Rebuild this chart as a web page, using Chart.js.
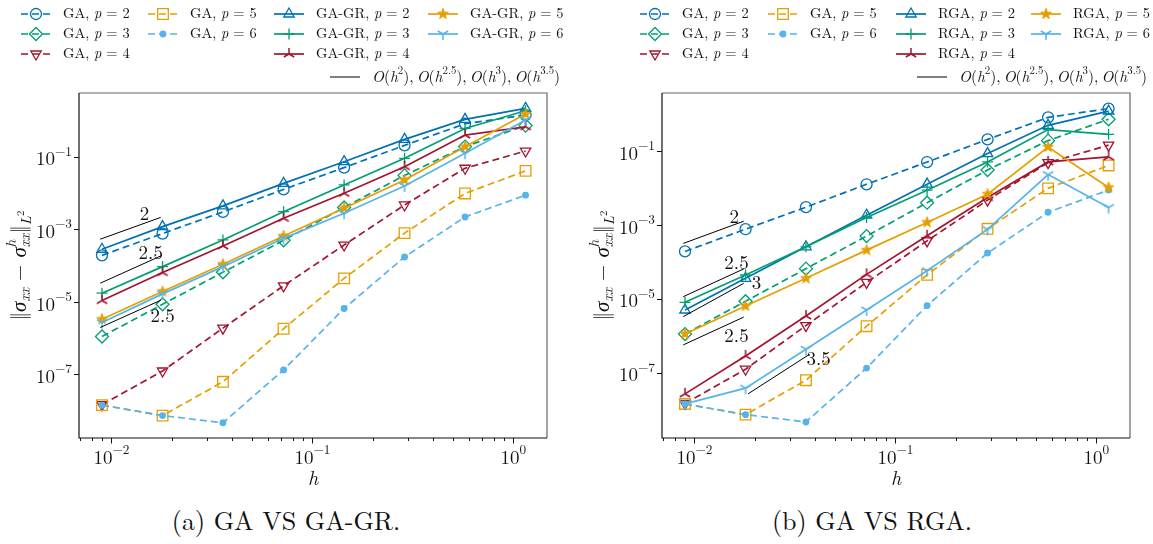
<!DOCTYPE html>
<html>
<head>
<meta charset="utf-8">
<script src="https://cdn.jsdelivr.net/npm/chart.js@4.4.1/dist/chart.umd.min.js"></script>
<style>
  html, body { margin: 0; padding: 0; background: #fff; }
  #page { position: relative; width: 1153px; height: 544px; overflow: hidden; background: #fff; }
  canvas { position: absolute; top: 0; }
  .cap { position: absolute; top: 505px; line-height: 30px; font-size: 26px; color: #111;
         font-family: "Latin Modern Roman", "Liberation Serif", serif;
         white-space: nowrap; transform: translateX(-50%); }
</style>
</head>
<body>
<div id="page">
  <canvas id="ca" width="576" height="490" style="left:0"></canvas>
  <canvas id="cb" width="570" height="490" style="left:583px"></canvas>
  <div class="cap" style="left:286px">(a) GA VS GA-GR.</div>
  <div class="cap" style="left:872px">(b) GA VS RGA.</div>
</div>
<script>
// mesh size
const h = [0.00898, 0.01797, 0.0359, 0.0719, 0.1438, 0.2875, 0.575, 1.15];

// GA (same in both panels)
const gaP2 = [1.9e-4, 7.6e-4, 3.0e-3, 1.25e-2, 0.050, 0.205, 0.81, 1.40];
const gaP3 = [1.1e-6, 8.5e-6, 6.5e-5, 4.95e-4, 3.97e-3, 0.0305, 0.19, 0.72];
const gaP4 = [1.45e-8, 1.23e-7, 1.87e-6, 2.75e-5, 3.66e-4, 4.66e-3, 0.048, 0.143];
const gaP5 = [1.41e-8, 7.25e-9, 6.2e-8, 1.8e-6, 4.4e-5, 7.8e-4, 9.7e-3, 0.0405];
const gaP6 = [1.41e-8, 7.25e-9, 4.6e-9, 1.32e-7, 6.5e-6, 1.72e-4, 2.18e-3, 8.7e-3];

// GA-GR (panel a)
const grP2 = [2.8e-4, 1.18e-3, 4.4e-3, 0.0184, 0.0728, 0.30, 1.07, 2.14];
const grP3 = [1.72e-5, 9.3e-5, 5.06e-4, 3.05e-3, 0.0166, 0.09, 0.60, 1.85];
const grP4 = [1.08e-5, 6.4e-5, 3.46e-4, 2.0e-3, 9.8e-3, 0.053, 0.395, 0.67];
const grP5 = [3.3e-6, 1.91e-5, 1.08e-4, 6.5e-4, 3.8e-3, 0.0228, 0.188, 1.5];
const grP6 = [2.67e-6, 1.65e-5, 9.3e-5, 5.6e-4, 2.75e-3, 0.0156, 0.124, 1.02];

// RGA (panel b)
const rgP2 = [4.94e-6, 3.55e-5, 2.54e-4, 1.82e-3, 0.0126, 0.0847, 0.494, 1.2];
const rgP3 = [7.96e-6, 4.37e-5, 2.54e-4, 1.58e-3, 8.65e-3, 0.0504, 0.378, 0.282];
const rgP4 = [2.65e-8, 2.82e-7, 3.4e-6, 4.55e-5, 5.05e-4, 5.48e-3, 0.0504, 0.0689];
const rgP5 = [1.11e-6, 6.34e-6, 3.55e-5, 2.06e-4, 1.16e-3, 6.75e-3, 0.128, 0.0102];
const rgP6 = [1.42e-8, 3.77e-8, 4.28e-7, 4.94e-6, 5.71e-5, 7.48e-4, 0.0229, 2.94e-3];

// reference slopes
const slopeX = [0.0088, 0.0176];
const slopeA = [[5.3e-4, 2.12e-3], [3.24e-5, 1.83e-4], [1.95e-6, 1.1e-5]];
const slopeB = [[3.13e-4, 1.25e-3], [1.13e-5, 6.4e-5], [3.27e-6, 2.6e-5], [5.6e-7, 3.17e-6]];
const slopeB35X = [0.0185, 0.037];
const slopeB35 = [2.65e-8, 3.0e-7];
const rateA = ['2', '2.5', '2.5'];
const rateAt_A = [[0.0146, 2.64e-3], [0.0157, 2.17e-4], [0.018, 3.9e-6]];
const rateB = ['2', '2.5', '3', '2.5', '3.5'];
const rateAt_B = [[0.0158, 1.64e-3], [0.0162, 9.4e-5], [0.0204, 2.6e-5], [0.0162, 9.8e-7], [0.0415, 2.29e-7]];

// ticks
const xTickVals = [0.01, 0.1, 1];
const xTickExp = ['\u22122', '\u22121', '0'];
const yTickVals = [1e-1, 1e-3, 1e-5, 1e-7];
const yTickExp = ['\u22121', '\u22123', '\u22125', '\u22127'];
const xLim = [0.0069, 1.47];
const yLimA = [1.75e-9, 5.7];
const yLimB = [1.69e-9, 3.7];

const BLUE = '#0072B2', GREEN = '#009E73', RED = '#A2142F', ORANGE = '#E69F00', SKY = '#56B4E9';
const FAM = '"Latin Modern Roman", "Liberation Serif", serif';

// custom markers
function markCanvas(kind, color) {
  const c = document.createElement('canvas');
  c.width = 16; c.height = 16;
  const g = c.getContext('2d');
  g.translate(8, 8);
  g.strokeStyle = color; g.fillStyle = color; g.lineWidth = 1.5;
  if (kind === 'star') {
    g.beginPath();
    for (let i = 0; i < 10; i++) {
      const r = i % 2 ? 2.3 : 5.6, a = -Math.PI / 2 + i * Math.PI / 5;
      g.lineTo(r * Math.cos(a), r * Math.sin(a));
    }
    g.closePath(); g.fill(); g.lineWidth = 1; g.stroke();
  } else {
    const base = kind === 'triUp' ? -Math.PI / 2 : Math.PI / 2;
    g.beginPath();
    for (let i = 0; i < 3; i++) {
      const a = base + i * 2 * Math.PI / 3;
      g.moveTo(0, 0); g.lineTo(6 * Math.cos(a), 6 * Math.sin(a));
    }
    g.stroke();
  }
  return c;
}

const stGA2 = {c: BLUE, dash: true, ps: 'circle', r: 5.5};
const stGA3 = {c: GREEN, dash: true, ps: 'rectRot', r: 6.5};
const stGA4 = {c: RED, dash: true, ps: 'triangle', r: 6, rot: 180};
const stGA5 = {c: ORANGE, dash: true, ps: 'rect', r: 7.5};
const stGA6 = {c: SKY, dash: true, ps: 'circle', r: 2.8, fill: true};
const stN2 = {c: BLUE, ps: 'triangle', r: 6};
const stN3 = {c: GREEN, ps: 'cross', r: 5.5};
const stN4 = {c: RED, ps: markCanvas('triUp', RED), r: 6};
const stN5 = {c: ORANGE, ps: markCanvas('star', ORANGE), r: 6};
const stN6 = {c: SKY, ps: markCanvas('triDown', SKY), r: 6};

function series(vals, st) {
  return {
    data: h.map((x, i) => ({x: x, y: vals[i]})),
    borderColor: st.c, borderWidth: 1.7, borderDash: st.dash ? [7, 4] : [],
    pointStyle: st.ps, pointRadius: st.r, pointRotation: st.rot || 0,
    pointBorderColor: st.c, pointBackgroundColor: st.fill ? st.c : 'rgba(0,0,0,0)',
    pointBorderWidth: 1.3, pointHoverRadius: st.r, fill: false, tension: 0
  };
}
function refLine(xs, ys) {
  return {
    data: xs.map((x, i) => ({x: x, y: ys[i]})),
    borderColor: '#000', borderWidth: 1, pointRadius: 0, fill: false
  };
}

// rich text
const R = t => ({t});
const I = t => ({t, it: 1});
const SUP = t => ({t, s: 0.7, dy: -0.42});
function fontOf(p, size) { return (p.it ? 'italic ' : '') + (size * (p.s || 1)).toFixed(1) + 'px ' + FAM; }
function richW(ctx, parts, size) {
  let w = 0, kw = 0;
  for (const p of parts) {
    ctx.font = fontOf(p, size);
    const tw = ctx.measureText(p.t).width;
    if (p.keep) kw = tw; else { w += Math.max(tw, kw); kw = 0; }
  }
  return w;
}
function drawRich(ctx, parts, x, y, size, align) {
  const w = richW(ctx, parts, size);
  let cx = align === 'center' ? x - w / 2 : align === 'right' ? x - w : x, kw = 0;
  ctx.textAlign = 'left'; ctx.textBaseline = 'middle';
  for (const p of parts) {
    ctx.font = fontOf(p, size);
    ctx.fillText(p.t, cx, y + (p.dy || 0) * size);
    const tw = ctx.measureText(p.t).width;
    if (p.keep) kw = tw; else { cx += Math.max(tw, kw); kw = 0; }
  }
}
const lab = (name, p) => [R(name + ', '), I('p'), R(' = ' + p)];
const orderParts = [];
['2', '2.5', '3', '3.5'].forEach((e, i) => {
  orderParts.push(I('O'), R('('), I('h'), SUP(e), R(i < 3 ? '),\u2009' : ')'));
});
const yTitle = [R('\u2016'), I('\u03c3'), {t: 'xx', it: 1, s: 0.7, dy: 0.28}, R(' \u2212 '), I('\u03c3'),
  {t: 'h', it: 1, s: 0.7, dy: -0.42, keep: 1}, {t: 'xx', it: 1, s: 0.7, dy: 0.28}, R('\u2016'),
  {t: 'L', it: 1, s: 0.7, dy: 0.3}, {t: '2', s: 0.5, dy: 0.06}];

function decor(cfg) {
  return {
    id: 'decor',
    afterDraw(chart) {
      const ctx = chart.ctx, a = chart.chartArea, xs = chart.scales.x, ys = chart.scales.y;
      ctx.save();
      ctx.fillStyle = '#111';
      cfg.rates.forEach((t, i) => {
        drawRich(ctx, [R(t)], xs.getPixelForValue(cfg.rateAt[i][0]), ys.getPixelForValue(cfg.rateAt[i][1]), 19, 'center');
      });
      // frame
      ctx.lineWidth = 1.2;
      ctx.strokeStyle = '#666';
      ctx.beginPath(); ctx.moveTo(a.left, a.top); ctx.lineTo(a.right, a.top); ctx.lineTo(a.right, a.bottom); ctx.stroke();
      ctx.strokeStyle = '#111';
      ctx.beginPath(); ctx.moveTo(a.left, a.top); ctx.lineTo(a.left, a.bottom); ctx.lineTo(a.right, a.bottom); ctx.stroke();
      // ticks
      ctx.lineWidth = 1;
      ctx.beginPath();
      for (const d of [0.001, 0.01, 0.1, 1]) {
        for (let k = 2; k < 10; k++) {
          const v = k * d;
          if (v <= xs.min || v >= xs.max) continue;
          const px = Math.round(xs.getPixelForValue(v)) + 0.5;
          ctx.moveTo(px, a.bottom); ctx.lineTo(px, a.bottom + 3);
        }
      }
      xTickVals.forEach(v => {
        const px = Math.round(xs.getPixelForValue(v)) + 0.5;
        ctx.moveTo(px, a.bottom); ctx.lineTo(px, a.bottom + 5.5);
      });
      yTickVals.forEach(v => {
        const py = Math.round(ys.getPixelForValue(v)) + 0.5;
        ctx.moveTo(a.left, py); ctx.lineTo(a.left - 5, py);
      });
      ctx.stroke();
      xTickVals.forEach((v, i) => drawRich(ctx, [R('10'), SUP(xTickExp[i])], xs.getPixelForValue(v), a.bottom + 20, 19, 'center'));
      yTickVals.forEach((v, i) => drawRich(ctx, [R('10'), SUP(yTickExp[i])], a.left - 7, ys.getPixelForValue(v) + 3, 19, 'right'));
      drawRich(ctx, [I('h')], (a.left + a.right) / 2, a.bottom + 41, 20, 'center');
      ctx.save();
      ctx.translate(20, (a.top + a.bottom) / 2);
      ctx.rotate(-Math.PI / 2);
      drawRich(ctx, yTitle, 0, 0, 21, 'center');
      ctx.restore();
      // legend
      const rows = [14, 34, 54, 77];
      for (const e of cfg.legend) {
        const y = rows[e.row], x0 = e.tx - 42, x1 = e.tx - 12;
        ctx.strokeStyle = e.st.c; ctx.lineWidth = e.st.lw || 1.7;
        ctx.setLineDash(e.st.dash ? [7, 4] : []);
        ctx.beginPath(); ctx.moveTo(x0, y); ctx.lineTo(x1, y); ctx.stroke();
        ctx.setLineDash([]);
        if (e.st.ps && Chart.helpers && Chart.helpers.drawPoint) {
          ctx.fillStyle = e.st.fill ? e.st.c : 'rgba(0,0,0,0)';
          ctx.lineWidth = 1.3;
          Chart.helpers.drawPoint(ctx, {pointStyle: e.st.ps, radius: e.st.r, rotation: e.st.rot || 0, borderWidth: 1.3}, (x0 + x1) / 2, y);
        }
        ctx.fillStyle = '#111';
        drawRich(ctx, e.parts, e.tx, y, e.row === 3 ? 15.5 : 14.5, 'left');
      }
      ctx.restore();
    }
  };
}

function makeChart(id, main, mainName, slopes, extra, yLim, rates, rateAt, cols, lastX) {
  const gaSt = [stGA2, stGA3, stGA4, stGA5, stGA6];
  const nSt = [stN2, stN3, stN4, stN5, stN6];
  const gaVals = [gaP2, gaP3, gaP4, gaP5, gaP6];
  const ds = [];
  gaVals.forEach((v, i) => ds.push(series(v, gaSt[i])));
  main.forEach((v, i) => ds.push(series(v, nSt[i])));
  slopes.forEach(s => ds.push(refLine(slopeX, s)));
  extra.forEach(s => ds.push(refLine(s[0], s[1])));
  ds.reverse();
  const pos = [[0, 0], [0, 1], [0, 2], [1, 0], [1, 1]];
  const legend = [];
  for (let i = 0; i < 5; i++) legend.push({st: gaSt[i], parts: lab('GA', i + 2), tx: cols[pos[i][0]], row: pos[i][1]});
  for (let i = 0; i < 5; i++) legend.push({st: nSt[i], parts: lab(mainName, i + 2), tx: cols[pos[i][0] + 2], row: pos[i][1]});
  legend.push({st: {c: '#000', lw: 1}, parts: orderParts, tx: lastX, row: 3});
  const cv = document.getElementById(id);
  return new Chart(cv, {
    type: 'line',
    data: {datasets: ds},
    options: {
      responsive: false, animation: false, devicePixelRatio: 1,
      layout: {padding: {left: 79, right: cv.width - 547, top: 93, bottom: 52}},
      plugins: {legend: {display: false}, tooltip: {enabled: false}},
      scales: {
        x: {type: 'logarithmic', min: xLim[0], max: xLim[1], display: false},
        y: {type: 'logarithmic', min: yLim[0], max: yLim[1], display: false}
      }
    },
    plugins: [decor({rates, rateAt, legend})]
  });
}

makeChart('ca', [grP2, grP3, grP4, grP5, grP6], 'GA-GR', slopeA, [], yLimA, rateA, rateAt_A, [63, 190, 316, 470], 372);
makeChart('cb', [rgP2, rgP3, rgP4, rgP5, rgP6], 'RGA', slopeB, [[slopeB35X, slopeB35]], yLimB, rateB, rateAt_B, [99, 227, 355, 490], 376);
</script>
</body>
</html>
